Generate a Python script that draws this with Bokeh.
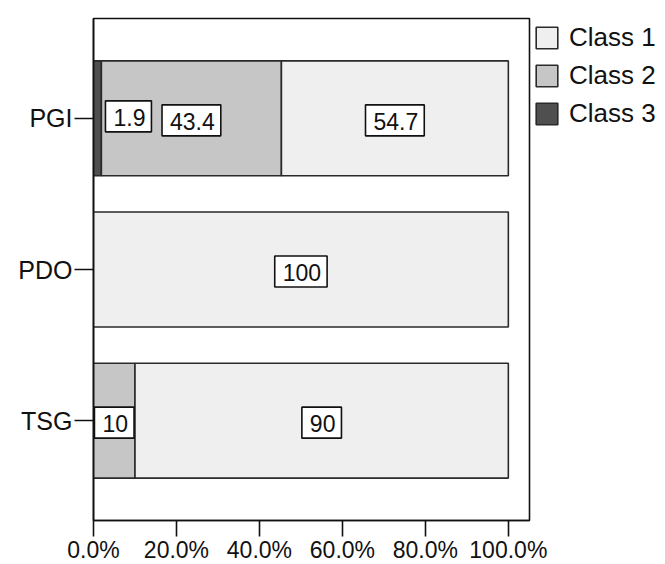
from bokeh.plotting import figure
from bokeh.models import (ColumnDataSource, Legend, LegendItem, FixedTicker,
                          PrintfTickFormatter, Range1d, FactorRange)
from bokeh.core.properties import value
from bokeh.embed import file_html
from bokeh.resources import INLINE

categories = ["TSG", "PDO", "PGI"]
class1 = [90, 100, 54.7]
class2 = [10, 0, 43.4]
class3 = [0, 0, 1.9]
series_names = ["Class 3", "Class 2", "Class 1"]
legend_order = ["Class 1", "Class 2", "Class 3"]
x_ticks = [0, 20, 40, 60, 80, 100]

colors = {"Class 1": "#efefef", "Class 2": "#c6c6c6", "Class 3": "#4f4f4f"}
FONT = "Liberation Sans"
INK = "#111111"
BAR_LINE = "#2a2a2a"

src = ColumnDataSource(dict(cat=categories, c3=class3, c2=class2, c1=class1))

p = figure(frame_width=436, frame_height=502, output_backend="svg", toolbar_location=None,
           y_range=FactorRange(factors=categories, range_padding=0.107),
           x_range=Range1d(0, 105.1),
           min_border_left=93, min_border_right=136, min_border_top=18, min_border_bottom=40)

renderers = p.hbar_stack(["c3", "c2", "c1"], y="cat", height=0.76, source=src,
                         color=[colors[n] for n in series_names],
                         line_color=BAR_LINE, line_width=1.6)
by_name = dict(zip(series_names, renderers))

# value labels, centred in each segment
lx, ly, lt, xoff, yoff = [], [], [], [], []
for i, cat in enumerate(categories):
    start = 0.0
    for vals in (class3, class2, class1):
        v = vals[i]
        if v > 0:
            lx.append(start + v / 2.0)
            ly.append(cat)
            lt.append(f"{v:g}")
            xoff.append(0)
            yoff.append(2)
        start += v
# the tiny first segment's label is nudged right so it does not overlap
for k, t in enumerate(lt):
    if t == "1.9":
        xoff[k] = 31
        yoff[k] = -2
lsrc = ColumnDataSource(dict(x=lx, y=ly, text=lt, xoff=xoff, yoff=yoff))
p.text(x="x", y="y", text="text", x_offset="xoff", y_offset="yoff", source=lsrc,
       text_align="center", text_baseline="middle",
       text_font=value(FONT), text_font_size="23px", text_color=INK,
       background_fill_color="white", border_line_color=INK,
       border_line_width=1.6, padding=(8, 6, 8, 6))

p.xgrid.visible = False
p.ygrid.visible = False
p.outline_line_color = INK
p.outline_line_width = 1.6

xa = p.xaxis[0]
xa.ticker = FixedTicker(ticks=x_ticks)
xa.formatter = PrintfTickFormatter(format="%.1f%%")
for ax in (p.xaxis[0], p.yaxis[0]):
    ax.major_tick_in = 0
    ax.minor_tick_line_color = None
    ax.axis_line_color = INK
    ax.axis_line_width = 1.6
    ax.major_tick_line_color = INK
    ax.major_tick_line_width = 1.6
    ax.major_label_text_font = FONT
    ax.major_label_text_color = INK
xa.major_tick_out = 16
xa.major_label_standoff = 0
xa.major_label_text_font_size = "23px"
ya = p.yaxis[0]
ya.major_tick_out = 19
ya.major_label_standoff = 2
ya.major_label_text_font_size = "25px"

items = [LegendItem(label=n, renderers=[by_name[n]]) for n in legend_order]
legend = Legend(items=items, location="top_left", margin=4, padding=0, spacing=7,
                glyph_width=27, glyph_height=27, label_standoff=9,
                label_text_font=FONT, label_text_font_size="26px",
                label_text_color=INK,
                border_line_color=None, background_fill_color=None)
p.add_layout(legend, "right")

open("out.html", "w").write(file_html(p, INLINE))
